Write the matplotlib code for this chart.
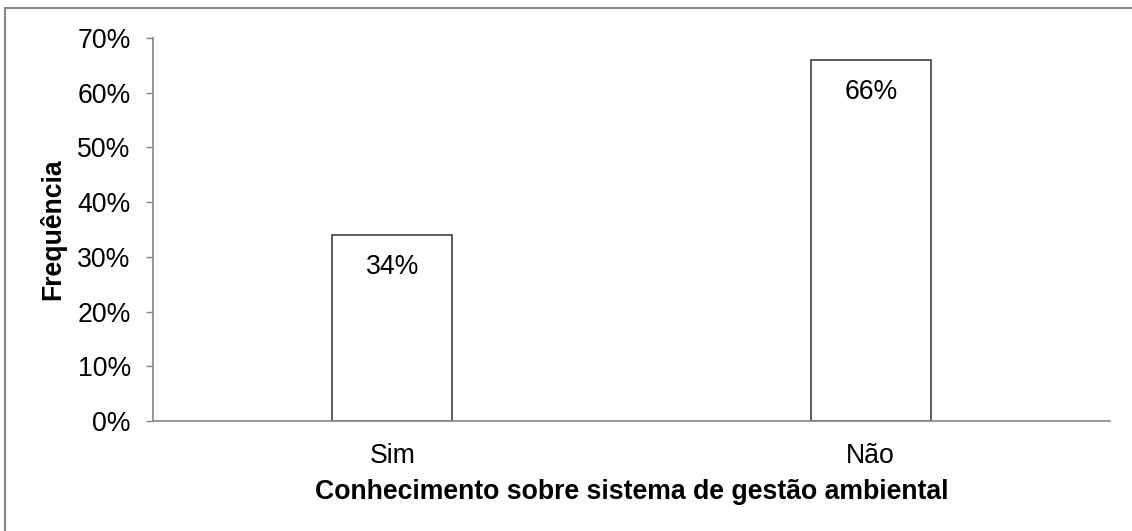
import matplotlib
matplotlib.use("Agg")
import matplotlib.pyplot as plt
from matplotlib.patches import Rectangle
from matplotlib.ticker import FuncFormatter

categories = ["Sim", "Não"]
values = [34, 66]
labels = ["34%", "66%"]
yticks = [0, 10, 20, 30, 40, 50, 60, 70]

plt.rcParams['font.family'] = ['Liberation Sans', 'DejaVu Sans']

W, H = 1132, 531
fig = plt.figure(figsize=(W / 100, H / 100), dpi=100)

# outer frame (only top and left visible)
fig.patches.append(Rectangle((5 / W, -0.1), 1.2, 1 - 8 / H + 0.1, transform=fig.transFigure,
                             fill=False, edgecolor='#868686', linewidth=1.5))

left, right = 153 / W, 1110 / W
bottom, top = 1 - 421 / H, 1 - 38 / H
ax = fig.add_axes([left, bottom, right - left, top - bottom])

FS = 19.2
x = range(len(categories))
bars = ax.bar(x, values, width=0.25, color='white', edgecolor='#404040', linewidth=1.2)
ax.set_xlim(-0.5, len(categories) - 0.5)
ax.set_ylim(0, 70)
ax.set_yticks(yticks)
ax.yaxis.set_major_formatter(FuncFormatter(lambda v, p: f"{int(v)}%"))
ax.set_xticks(list(x))
ax.set_xticklabels(categories)

for s in ['top', 'right']:
    ax.spines[s].set_visible(False)
for s in ['left', 'bottom']:
    ax.spines[s].set_color('#868686')
    ax.spines[s].set_linewidth(1.2)

ax.tick_params(axis='y', length=5, width=1, color='#868686', pad=11, labelsize=FS)
ax.tick_params(axis='x', length=0, pad=16, labelsize=FS)

for b, lab in zip(bars, labels):
    ax.annotate(lab, (b.get_x() + b.get_width() / 2, b.get_height()), xytext=(0, -23),
                textcoords='offset points', ha='center', va='center', fontsize=FS)

fig.text(0.5 * (left + right), 1 - 492 / H, "Conhecimento sobre sistema de gestão ambiental",
         ha='center', va='center', fontsize=FS, fontweight='bold')
fig.text(53 / W, 0.5 * (bottom + top), "Frequência", rotation=90, ha='center', va='center',
         fontsize=FS, fontweight='bold')

fig.savefig("out.png", dpi=100)
